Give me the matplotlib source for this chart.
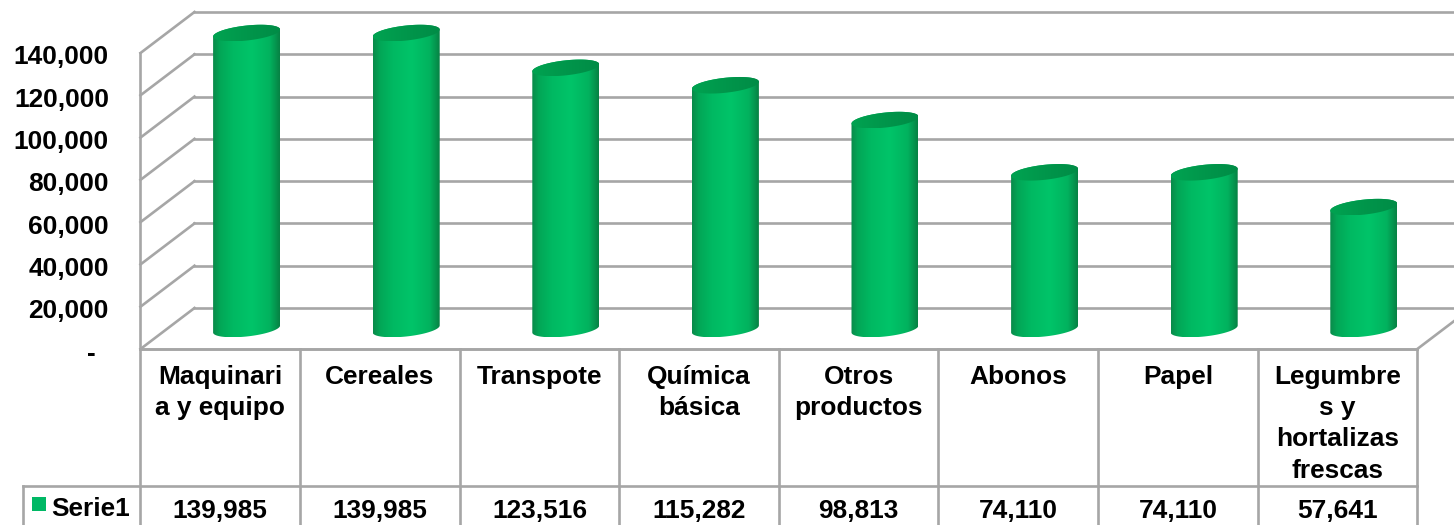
import numpy as np
import matplotlib
matplotlib.use("Agg")
import matplotlib.pyplot as plt
from matplotlib.colors import LinearSegmentedColormap
from matplotlib.patches import PathPatch, Rectangle
from matplotlib.path import Path

categories = ["Maquinari\na y equipo", "Cereales", "Transpote", "Química\nbásica",
              "Otros\nproductos", "Abonos", "Papel", "Legumbre\ns y\nhortalizas\nfrescas"]
values = [139985, 139985, 123516, 115282, 98813, 74110, 74110, 57641]
value_labels = ["139,985", "139,985", "123,516", "115,282", "98,813", "74,110", "74,110", "57,641"]
y_ticks = [0, 20000, 40000, 60000, 80000, 100000, 120000, 140000]
y_labels = ["-", "20,000", "40,000", "60,000", "80,000", "100,000", "120,000", "140,000"]
series_name = "Serie1"

plt.rcParams["font.family"] = ["Liberation Sans", "DejaVu Sans"]
plt.rcParams["font.weight"] = "bold"

W, H = 1454, 525
X0, Y0 = 140.5, 349.0     # front corner of the floor, pixels
CELL = 159.6              # pixels per category
PX_PER_UNIT = 296.0 / 140000
DX, DY = 54.0, 41.0       # depth of the box, pixels
GRID = "#a6a6a6"
LW = 1.9
FS = 18.9


def ux(px):
    return (px - X0) / CELL


def uy(px):
    return (Y0 - px) / PX_PER_UNIT


fig = plt.figure(figsize=(W / 100, H / 100), dpi=100)
ax = fig.add_axes([0, 0, 1, 1])
ax.axis("off")

depth_x = DX / CELL
depth_y = DY / PX_PER_UNIT
n = len(categories)

# box: side wall, back wall, floor
for t in y_ticks:
    ax.plot([0, depth_x], [t, t + depth_y], color=GRID, lw=LW, zorder=1)
    ax.plot([depth_x, ux(W + 20)], [t + depth_y, t + depth_y], color=GRID, lw=LW, zorder=1)
ax.plot([0, 0], [0, 140000], color=GRID, lw=LW, zorder=1)
ax.plot([n, n + depth_x], [0, depth_y], color=GRID, lw=LW, zorder=1)

# table
row_y = uy(485.5)
bottom_y = uy(H + 2)
ax.plot([0, n], [0, 0], color=GRID, lw=2.1, zorder=2)
ax.plot([ux(23), n], [row_y, row_y], color=GRID, lw=LW, zorder=2)
for i in range(n + 1):
    ax.plot([i, i], [0, bottom_y], color=GRID, lw=LW, zorder=2)
ax.plot([ux(23), ux(23)], [row_y, bottom_y], color=GRID, lw=LW, zorder=2)

# cylinders
body_cmap = LinearSegmentedColormap.from_list(
    "body", [(0, "#0a8a4a"), (0.1, "#03a656"), (0.3, "#00b962"), (0.58, "#00c469"),
             (0.85, "#02b25e"), (1, "#078244")])
cap_cmap = LinearSegmentedColormap.from_list(
    "cap", [(0, "#00a351"), (0.5, "#00964b"), (1, "#008c46")])
grad = np.linspace(0, 1, 200).reshape(1, -1)

half_w = 33.5 / CELL
shear = 3.5 / PX_PER_UNIT
minor = 7.5 / PX_PER_UNIT
offset_x = 26.3 / CELL
offset_y = 20.0 / PX_PER_UNIT
theta = np.linspace(0, 2 * np.pi, 121)
lower = np.linspace(np.pi, 2 * np.pi, 61)
upper = np.linspace(0, np.pi, 61)

for i, v in enumerate(values):
    cx = i + 0.5 + offset_x
    bx = cx + half_w * np.cos(lower)
    by = offset_y + shear * np.cos(lower) + minor * np.sin(lower)
    tx = cx + half_w * np.cos(upper)
    ty = v + offset_y + shear * np.cos(upper) + minor * np.sin(upper)
    verts = np.column_stack([np.r_[bx, tx], np.r_[by, ty]])
    patch = PathPatch(Path(np.vstack([verts, verts[:1]]), closed=True), fc="none", ec="none")
    ax.add_patch(patch)
    im = ax.imshow(grad, cmap=body_cmap, aspect="auto", zorder=3, interpolation="bilinear",
                   extent=[cx - half_w, cx + half_w, by.min(), ty.max()])
    im.set_clip_path(patch)
    cap = np.column_stack([cx + half_w * np.cos(theta),
                           v + offset_y + shear * np.cos(theta) + minor * np.sin(theta)])
    cap_patch = PathPatch(Path(cap, closed=True), fc="none", ec="none")
    ax.add_patch(cap_patch)
    im2 = ax.imshow(grad, cmap=cap_cmap, aspect="auto", zorder=4, interpolation="bilinear",
                    extent=[cx - half_w, cx + half_w, cap[:, 1].min(), cap[:, 1].max()])
    im2.set_clip_path(cap_patch)

# axis labels
for t, lab in zip(y_ticks, y_labels):
    x = 96 if lab == "-" else 109
    ax.text(ux(x), t - 4.5 / PX_PER_UNIT, lab, ha="right", va="center",
            fontsize=FS, color="black")

# table text
for i, lab in enumerate(categories):
    ax.text(i + 0.5, uy(365), lab, ha="center", va="top", fontsize=FS, color="black",
            linespacing=1.38)
    ax.text(i + 0.5, uy(511), value_labels[i], ha="center", va="center", fontsize=FS, color="black")
ax.add_patch(Rectangle((ux(32), uy(511)), 14 / CELL, 14 / PX_PER_UNIT, fc="#00b865", ec="none", zorder=3))
ax.text(ux(51), uy(509), series_name, ha="left", va="center", fontsize=FS, color="black")

ax.set_xlim(ux(0), ux(W))
ax.set_ylim(uy(H), uy(0))

fig.savefig("out.png", dpi=100)
